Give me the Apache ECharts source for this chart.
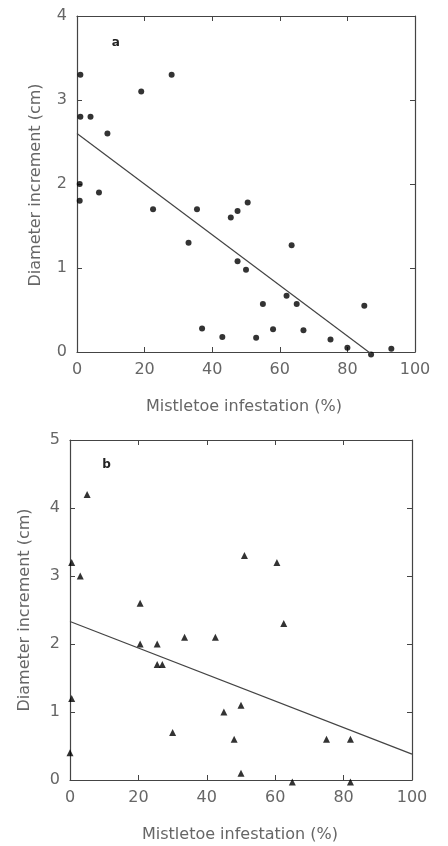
<!DOCTYPE html>
<html><head><meta charset="utf-8">
<script src="https://cdn.jsdelivr.net/npm/echarts@6/dist/echarts.min.js"></script>
<style>html,body{margin:0;padding:0;background:#fff}#c{width:448px;height:846px}</style>
</head><body><div id="c"></div>
<script>
// Panel a (circles)
const aX = [1, 1, 4, 9, 0.8, 0.8, 6.5, 19, 28, 22.5, 33, 35.5, 37, 43, 45.5, 47.5, 50.5, 47.5, 50, 53, 55, 58, 62, 63.5, 65, 67, 75, 80, 85, 87, 93];
const aY = [3.3, 2.8, 2.8, 2.6, 2.0, 1.8, 1.9, 3.1, 3.3, 1.7, 1.3, 1.7, 0.28, 0.18, 1.6, 1.68, 1.78, 1.08, 0.98, 0.17, 0.57, 0.27, 0.67, 1.27, 0.57, 0.26, 0.15, 0.05, 0.55, -0.03, 0.04];
const aFitX = [0, 87];
const aFitY = [2.6, -0.02];
// Panel b (triangles)
const bX = [5, 0.5, 3, 0.5, 0, 20.5, 20.5, 25.5, 25.5, 27, 30, 33.5, 42.5, 45, 48, 50, 50, 51, 60.5, 62.5, 65, 75, 82, 82];
const bY = [4.2, 3.2, 3.0, 1.2, 0.4, 2.6, 2.0, 2.0, 1.7, 1.7, 0.7, 2.1, 2.1, 1.0, 0.6, 1.1, 0.1, 3.3, 3.2, 2.3, -0.03, 0.6, 0.6, -0.03];
const bFitX = [0, 100];
const bFitY = [2.33, 0.38];
const xTicks = ['0', '20', '40', '60', '80', '100'];
const xTitle = 'Mistletoe infestation (%)';
const yTitle = 'Diameter increment (cm)';
const panelLabels = ['a', 'b'];
const panelLabelPos = [[11.5, 3.68], [10.7, 4.63]];

const zip = (xs, ys) => xs.map((x, i) => [x, ys[i]]);
const font = 'DejaVu Sans, sans-serif';
const lab = { color: '#666', fontSize: 16, fontFamily: font };
const tick = { show: true, inside: true, length: 5, lineStyle: { color: '#444', width: 1 } };
const aline = { show: true, onZero: false, lineStyle: { color: '#444', width: 1.2 } };

function xAxes(gi) {
  return [
    { type: 'value', gridIndex: gi, position: 'bottom', min: 0, max: 100, interval: 20, axisLine: aline, axisTick: tick, splitLine: { show: false },
      axisLabel: Object.assign({ margin: 10, formatter: v => xTicks[v / 20] }, lab) },
    { type: 'value', gridIndex: gi, position: 'top', min: 0, max: 100, interval: 20, axisLine: aline, axisTick: tick, splitLine: { show: false }, axisLabel: { show: false } }
  ];
}
function yAxes(gi, max) {
  return [
    { type: 'value', gridIndex: gi, position: 'left', min: 0, max: max, interval: 1, axisLine: aline, axisTick: tick, splitLine: { show: false },
      axisLabel: Object.assign({ margin: 10 }, lab) },
    { type: 'value', gridIndex: gi, position: 'right', min: 0, max: max, interval: 1, axisLine: aline, axisTick: tick, splitLine: { show: false }, axisLabel: { show: false } }
  ];
}
function panelMark(i) {
  return {
    symbol: 'rect', symbolSize: [1, 1], itemStyle: { color: 'rgba(0,0,0,0)' },
    label: { show: true, position: 'inside', formatter: panelLabels[i], color: '#222', fontSize: 12, fontWeight: 'bold', fontFamily: font },
    data: [{ coord: panelLabelPos[i] }]
  };
}

const chart = echarts.init(document.getElementById('c'), null, { renderer: 'canvas' });
chart.setOption({
  animation: false,
  backgroundColor: '#fff',
  grid: [
    { left: 77, top: 16, width: 338, height: 336 },
    { left: 70, top: 440, width: 342, height: 340 }
  ],
  xAxis: xAxes(0).concat(xAxes(1)),
  yAxis: yAxes(0, 4).concat(yAxes(1, 5)),
  graphic: [
    { type: 'text', x: 244, y: 407, style: { text: xTitle, align: 'center', verticalAlign: 'middle', fill: '#666', font: '16px ' + font } },
    { type: 'text', x: 36, y: 185, rotation: Math.PI / 2, style: { text: yTitle, align: 'center', verticalAlign: 'middle', fill: '#666', font: '16px ' + font } },
    { type: 'text', x: 240, y: 835, style: { text: xTitle, align: 'center', verticalAlign: 'middle', fill: '#666', font: '16px ' + font } },
    { type: 'text', x: 25, y: 610, rotation: Math.PI / 2, style: { text: yTitle, align: 'center', verticalAlign: 'middle', fill: '#666', font: '16px ' + font } }
  ],
  series: [
    { type: 'scatter', xAxisIndex: 0, yAxisIndex: 0, data: zip(aX, aY), symbol: 'circle', symbolSize: 6, itemStyle: { color: '#000' }, clip: false, markPoint: panelMark(0) },
    { type: 'line', xAxisIndex: 0, yAxisIndex: 0, data: zip(aFitX, aFitY), symbol: 'none', lineStyle: { color: '#444', width: 1.2 }, clip: false },
    { type: 'scatter', xAxisIndex: 2, yAxisIndex: 2, data: zip(bX, bY), symbol: 'triangle', symbolSize: 7, itemStyle: { color: '#000' }, clip: false, markPoint: panelMark(1) },
    { type: 'line', xAxisIndex: 2, yAxisIndex: 2, data: zip(bFitX, bFitY), symbol: 'none', lineStyle: { color: '#444', width: 1.2 }, clip: false }
  ]
});
</script></body></html>
